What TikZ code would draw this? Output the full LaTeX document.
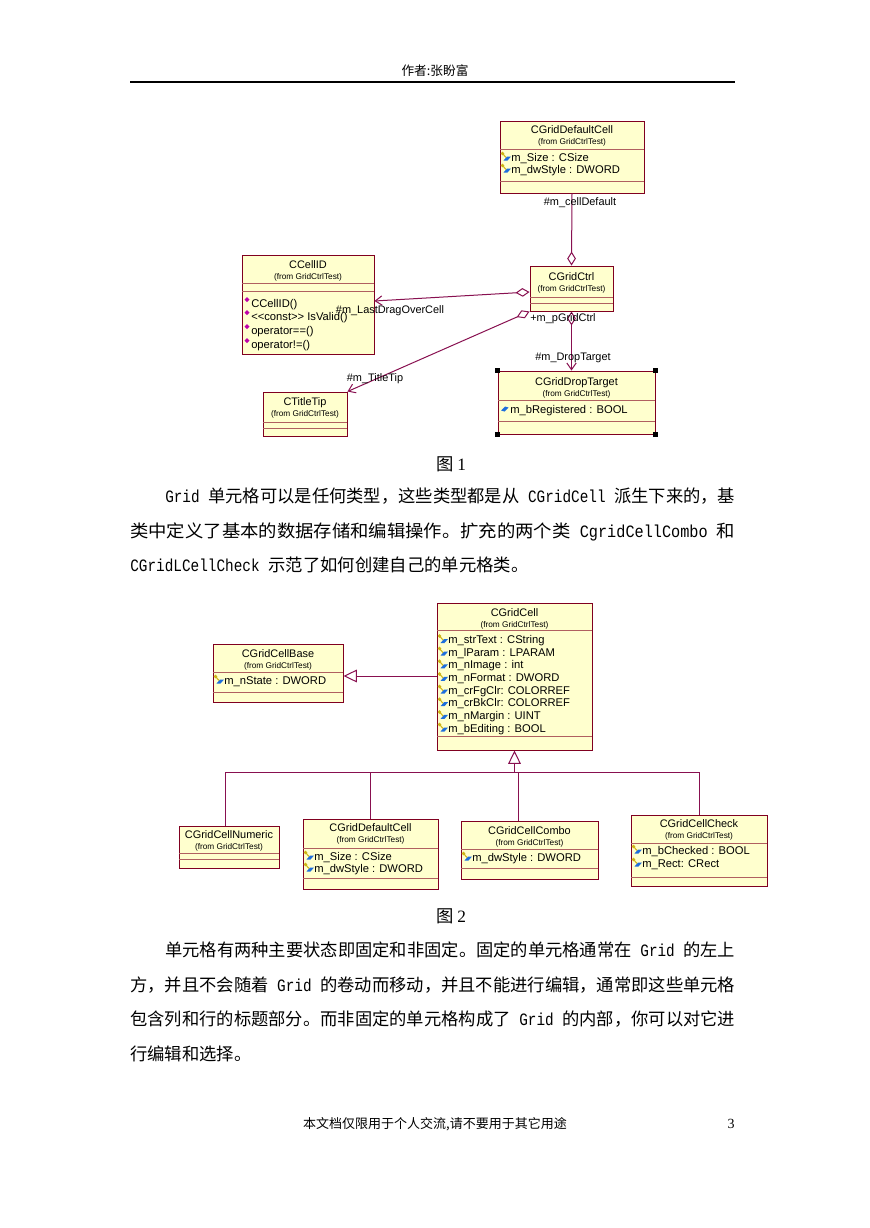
\documentclass[tikz,border=0pt]{standalone}
\usepackage{fontspec}
\usepackage{graphicx}
\usetikzlibrary{fit,arrows.meta,calc}
\newfontfamily\cjk{Noto Sans CJK SC}
\newfontfamily\umlf{Liberation Sans}
\newfontfamily\monof{Liberation Mono}
\newfontfamily\serf{Liberation Serif}
\definecolor{umlfill}{RGB}{255,255,206}
\definecolor{umlborder}{RGB}{128,0,32}
\definecolor{sepc}{RGB}{176,96,96}
\definecolor{connc}{RGB}{136,16,80}
\definecolor{keyc}{RGB}{205,180,20}
\definecolor{attrblue}{RGB}{30,110,220}
\definecolor{opc}{RGB}{190,0,170}
\newcommand\mlat[1]{\scalebox{0.83}[1]{\monof\fontsize{13pt}{15pt}\selectfont #1}}
% class box: name, x1, y1, x2, y2, sep1, sep2, title, titleY
\newcommand\umlclass[9]{%
  \node[umlbox, fit={(#2,#3)(#4,#5)}] (#1) {};
  \draw[sepl] (#2,#6) -- (#4,#6);
  \draw[sepl] (#2,#7) -- (#4,#7);
  \node[cname] (#1-n) at (#1.north |- 0,#9) {#8};
  \node[cfrom] (#1-f) at (#1.north |- 0,#9+11.5) {(from GridCtrlTest)};
}
\newcommand\keyicon[2]{%
  \fill[attrblue] (#1+2.5,#2+3.5) -- (#1+6,#2-0.5) -- (#1+10,#2-0.5) -- (#1+6.5,#2+3.5) -- cycle;
  \draw[keyc, line width=0.8pt] (#1+1.5,#2-3.5) -- (#1+5,#2+0.5);
  \fill[keyc] (#1+1.5,#2-3.5) circle (1.4pt);
}
\newcommand\pubicon[2]{%
  \fill[attrblue] (#1+1,#2+1.5) -- (#1+5,#2-2.5) -- (#1+8.5,#2-1.5) -- (#1+4.5,#2+2.5) -- cycle;
}
\newcommand\opicon[2]{%
  \fill[opc] (#1+3,#2-6) -- (#1+5.5,#2-3.5) -- (#1+3,#2-1) -- (#1+0.5,#2-3.5) -- cycle;
}
\newcommand\kattr[4]{\keyicon{#2}{#3}\node[cattr] (#1) at (#2+10,#3) {#4};}
\newcommand\pattr[4]{\pubicon{#2}{#3}\node[cattr] (#1) at (#2+10,#3) {#4};}
\newcommand\oper[4]{\opicon{#2}{#3}\node[cattr] (#1) at (#2+7,#3) {#4};}
\begin{document}
\begin{tikzpicture}[x=0.75pt,y=-0.75pt,
  umlbox/.style={draw=umlborder, fill=umlfill, line width=0.7pt, inner sep=0pt},
  sepl/.style={draw=sepc, line width=0.6pt},
  conn/.style={draw=connc, line width=0.75pt},
  aggto/.style={conn, -{Diamond[open,length=10.5pt,width=6.5pt]}},
  aggnav/.style={conn, {Diamond[open,length=10.5pt,width=6.5pt]}-{Straight Barb[length=5pt,width=7pt]}},
  gen/.style={conn, -{Triangle[open,length=10pt,width=9.5pt]}},
  cname/.style={font=\umlf\fontsize{8.2pt}{9.5pt}\selectfont, inner sep=0pt, text height=5.9pt, text depth=0pt},
  cfrom/.style={font=\umlf\fontsize{6.2pt}{7.5pt}\selectfont, inner sep=0pt, text height=4.45pt, text depth=0pt},
  cattr/.style={font=\umlf\fontsize{8.4pt}{9.5pt}\selectfont, inner sep=0pt, text height=6pt, text depth=0pt, anchor=west},
  lbl/.style={font=\umlf\fontsize{8.2pt}{9.5pt}\selectfont, inner sep=0pt, text height=5.9pt, text depth=0pt},
  pl/.style={font=\cjk\fontsize{13pt}{15pt}\selectfont, anchor=west, inner sep=0pt, text height=11.44pt, text depth=1.56pt},
  figcap/.style={font=\cjk\fontsize{13pt}{15pt}\selectfont, inner sep=0pt, text height=11.44pt, text depth=1.56pt}
]
\fill[white] (0,0) rectangle (869,1228);
\useasboundingbox (0,0) rectangle (869,1228);

% header
\node[font=\cjk\fontsize{9.5pt}{11pt}\selectfont, inner sep=0pt] (hdr) at (435,71) {作者:张盼富};
\coordinate (hl) at (130,82);
\coordinate (hr) at (735,82);
\draw[line width=1.1pt] (hl) -- (hr);

% ================= Figure 1 =================
\umlclass{df1}{500}{121}{644}{193}{149}{181}{CGridDefaultCell}{130}
\kattr{df1a}{501}{157}{m\_Size : CSize}
\kattr{df1b}{501}{169}{m\_dwStyle : DWORD}

\umlclass{cellid}{242}{255}{374}{354}{283}{291}{CCellID}{265}
\oper{op1}{244}{303}{CCellID()}
\oper{op2}{244}{316}{\textless\textless const\textgreater\textgreater\ IsValid()}
\oper{op3}{244}{330}{operator==()}
\oper{op4}{244}{344}{operator!=()}

\umlclass{ctrl}{530}{266}{613}{311}{297}{303}{CGridCtrl}{277}

\umlclass{tip}{263}{392}{347}{436}{422}{428}{CTitleTip}{402}

\umlclass{drop}{498}{371}{655}{434}{400}{421}{CGridDropTarget}{382}
\pattr{dropa}{500}{409}{m\_bRegistered : BOOL}
\foreach \c in {north west, north east, south west, south east}
  \fill[black] (drop.\c) ++(-2.7,-2.7) rectangle ++(5.4,5.4);

% connectors figure 1
\draw[aggto] (df1.south) -- (ctrl.north);
\draw[aggnav] (ctrl.west |- 0,292) -- (cellid.east |- 0,301);
\draw[aggnav] (ctrl.south west) -- (tip.north east);
\draw[aggnav] (ctrl.south) -- (ctrl.south |- drop.north);

\node[lbl] (lab1) at (580,202) {\#m\_cellDefault};
\node[lbl] (lab2) at (390,310) {\#m\_LastDragOverCell};
\node[lbl] (lab3) at (563,318) {+m\_pGridCtrl};
\node[lbl] (lab4) at (573,357) {\#m\_DropTarget};
\node[lbl] (lab5) at (375,378) {\#m\_TitleTip};

\node[figcap] (fig1) at (451,464) {图\hspace{3pt}{\serf 1}};

% paragraph 1
\node[pl] (p1a) at (165,496) {\resizebox{427.5pt}{\height}{\mlat{Grid }单元格可以是任何类型，这些类型都是从\mlat{ CGridCell }派生下来的，基}};
\node[pl] (p1b) at (130,531) {\resizebox{453.75pt}{\height}{类中定义了基本的数据存储和编辑操作。扩充的两个类\mlat{ CgridCellCombo }和}};
\node[pl] (p1c) at (130,565) {\mlat{CGridLCellCheck }示范了如何创建自己的单元格类。};

% ================= Figure 2 =================
\umlclass{cell}{437}{603}{592}{750}{630}{736}{CGridCell}{613}
\kattr{ca1}{438}{639.5}{m\_strText : CString}
\kattr{ca2}{438}{652.1}{m\_lParam : LPARAM}
\kattr{ca3}{438}{664.8}{m\_nImage : int}
\kattr{ca4}{438}{677.4}{m\_nFormat : DWORD}
\kattr{ca5}{438}{690.1}{m\_crFgClr: COLORREF}
\kattr{ca6}{438}{702.7}{m\_crBkClr: COLORREF}
\kattr{ca7}{438}{715.4}{m\_nMargin : UINT}
\kattr{ca8}{438}{728}{m\_bEditing : BOOL}

\umlclass{base}{213}{644}{343}{702}{672}{692}{CGridCellBase}{654}
\kattr{ba1}{214}{680}{m\_nState : DWORD}

\umlclass{numeric}{179}{826}{279}{868}{853}{859}{CGridCellNumeric}{835}

\umlclass{dcell}{303}{819}{438}{889}{848}{878}{CGridDefaultCell}{828}
\kattr{dc1}{304}{856}{m\_Size : CSize}
\kattr{dc2}{304}{868}{m\_dwStyle : DWORD}

\umlclass{combo}{461}{821}{598}{879}{849}{868}{CGridCellCombo}{831}
\kattr{co1}{462}{857}{m\_dwStyle : DWORD}

\umlclass{check}{631}{815}{767}{886}{843}{877}{CGridCellCheck}{824}
\kattr{ch1}{632}{850}{m\_bChecked : BOOL}
\kattr{ch2}{632}{863}{m\_Rect: CRect}

% connectors figure 2
\draw[gen] (cell.west |- 0,676) -- (base.east |- 0,676);
\coordinate (hubL) at (225,772);
\coordinate (hubC) at (518,772);
\coordinate (hubR) at (699,772);
\draw[conn] (hubL) -- (hubR);
\draw[gen] (cell.south |- hubL) -- (cell.south);
\draw[conn] (hubL) -- (hubL |- numeric.north);
\draw[conn] (dcell.north |- hubL) -- (dcell.north);
\draw[conn] (hubC) -- (hubC |- combo.north);
\draw[conn] (hubR) -- (hubR |- check.north);

\node[figcap] (fig2) at (451,916) {图\hspace{3pt}{\serf 2}};

% paragraph 2
\node[pl] (p2a) at (165,950) {\resizebox{427.5pt}{\height}{单元格有两种主要状态即固定和非固定。固定的单元格通常在\mlat{ Grid }的左上}};
\node[pl] (p2b) at (130,985) {\resizebox{453.75pt}{\height}{方，并且不会随着\mlat{ Grid }的卷动而移动，并且不能进行编辑，通常即这些单元格}};
\node[pl] (p2c) at (130,1019) {\resizebox{453.75pt}{\height}{包含列和行的标题部分。而非固定的单元格构成了\mlat{ Grid }的内部，你可以对它进}};
\node[pl] (p2d) at (130,1054) {行编辑和选择。};

% footer
\node[font=\cjk\fontsize{9.75pt}{11pt}\selectfont, inner sep=0pt] (ftr) at (435,1124) {本文档仅限用于个人交流,请不要用于其它用途};
\node[font=\serf\fontsize{10.5pt}{12pt}\selectfont, inner sep=0pt] (pg) at (731,1124) {3};
\end{tikzpicture}
\end{document}
